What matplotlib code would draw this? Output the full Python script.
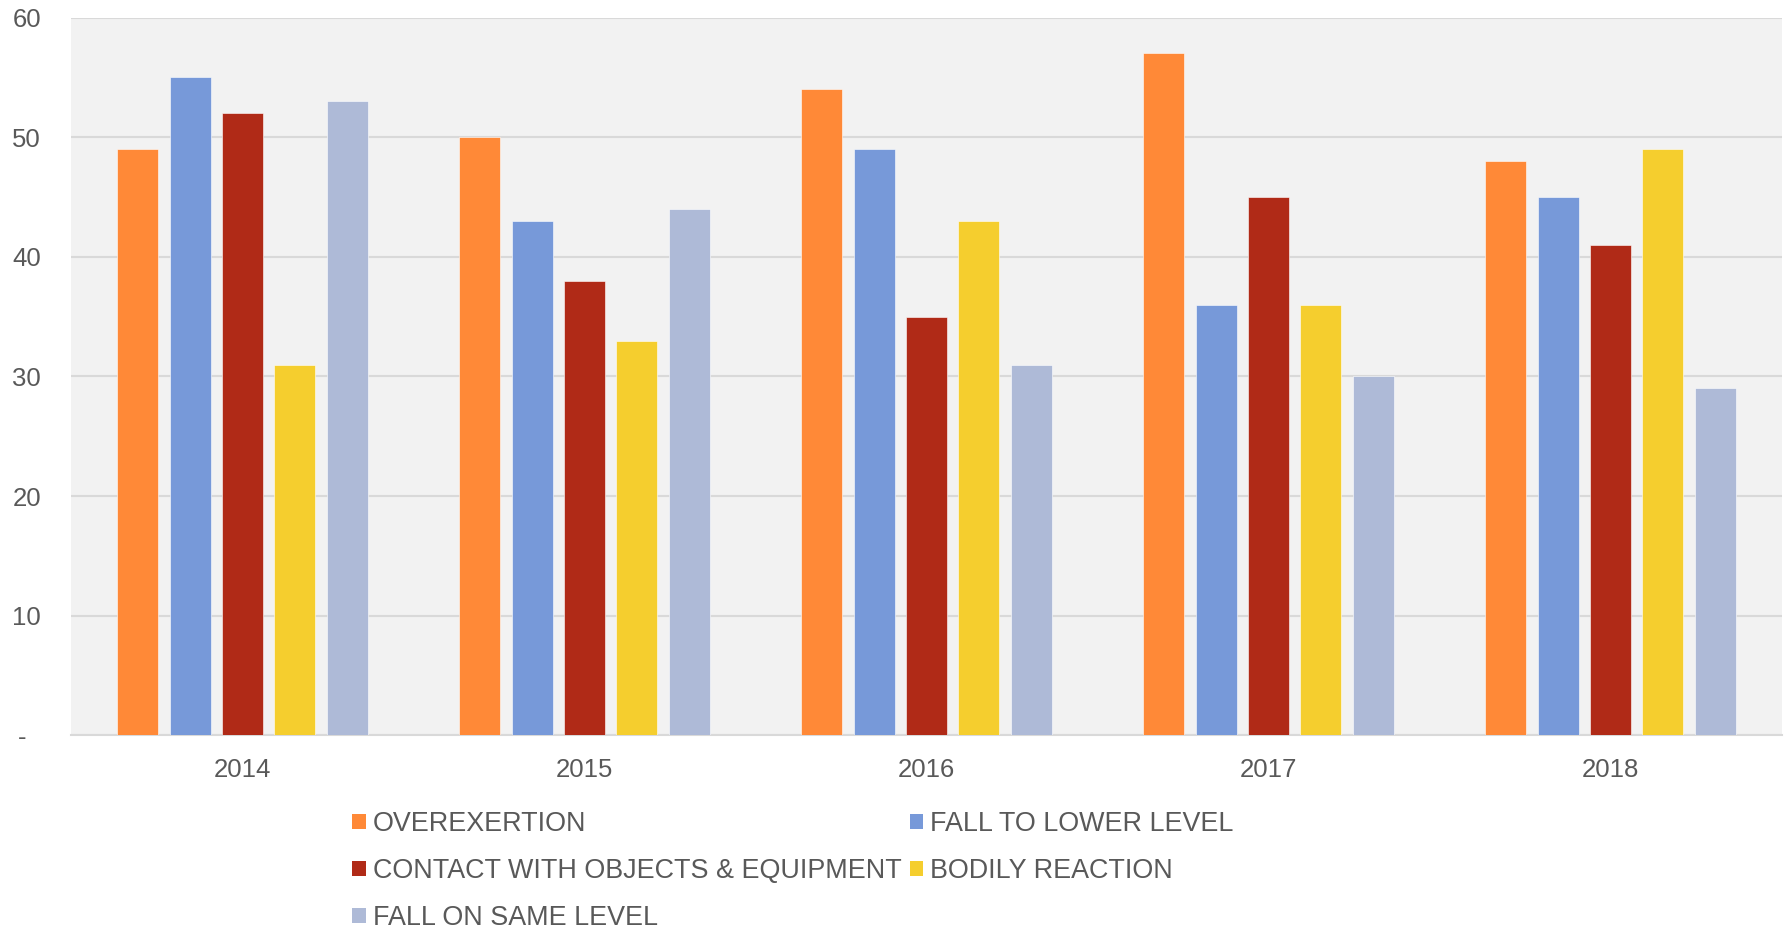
import matplotlib
matplotlib.use("Agg")
import matplotlib.pyplot as plt
import numpy as np
from matplotlib.patches import Patch

plt.rcParams['font.family'] = ['Liberation Sans', 'DejaVu Sans']

years = ["2014", "2015", "2016", "2017", "2018"]
series_names = ["OVEREXERTION", "FALL TO LOWER LEVEL", "CONTACT WITH OBJECTS & EQUIPMENT",
                "BODILY REACTION", "FALL ON SAME LEVEL"]
overexertion = [49, 50, 54, 57, 48]
fall_lower = [55, 43, 49, 36, 45]
contact = [52, 38, 35, 45, 41]
bodily = [31, 33, 43, 36, 49]
fall_same = [53, 44, 31, 30, 29]
yticks = [0, 10, 20, 30, 40, 50, 60]
ytick_labels = ["-  ", "10", "20", "30", "40", "50", "60"]

colors = ["#FF8937", "#7799D9", "#B02A17", "#F5CE2E", "#AEBAD7"]
data = [overexertion, fall_lower, contact, bodily, fall_same]

fig = plt.figure(figsize=(17.87, 9.25), dpi=100)
ax = fig.add_axes([0.040, 0.205, 0.957, 0.776])
ax.set_facecolor("#F2F2F2")

x = np.arange(len(years))
width = 0.12
step = 0.153
handles = []
for i, (vals, c, name) in enumerate(zip(data, colors, series_names)):
    offs = (i - 2) * step
    ax.bar(x + offs, vals, width=width, color=c, edgecolor="#FFFFFF", linewidth=0.4, zorder=3)
    handles.append(Patch(facecolor=c, label=name))

ax.set_xlim(-0.5, 4.5)
ax.set_ylim(0, 60)
ax.set_yticks(yticks)
ax.set_yticklabels(ytick_labels)
ax.set_xticks(x)
ax.set_xticklabels(years)
ax.yaxis.grid(True, color="#D9D9D9", linewidth=1.5, zorder=0)
ax.set_axisbelow(True)
for s in ["left", "right", "top"]:
    ax.spines[s].set_visible(False)
ax.spines["bottom"].set_color("#D9D9D9")
ax.spines["bottom"].set_linewidth(1.5)
ax.tick_params(axis="both", length=0, labelsize=18.5, colors="#595959")
ax.tick_params(axis="y", pad=22)
ax.tick_params(axis="x", pad=16)

order = [0, 2, 4, 1, 3]
leg = fig.legend([handles[i] for i in order], [series_names[i] for i in order],
                 ncol=2, loc="upper left", bbox_to_anchor=(0.197, 0.123),
                 frameon=False, fontsize=19.4, handlelength=0.5, handleheight=0.5,
                 handletextpad=0.27, columnspacing=0.3, labelspacing=0.78,
                 borderaxespad=0, borderpad=0)
for t in leg.get_texts():
    t.set_color("#595959")

fig.savefig("out.png", dpi=100, facecolor="white")
